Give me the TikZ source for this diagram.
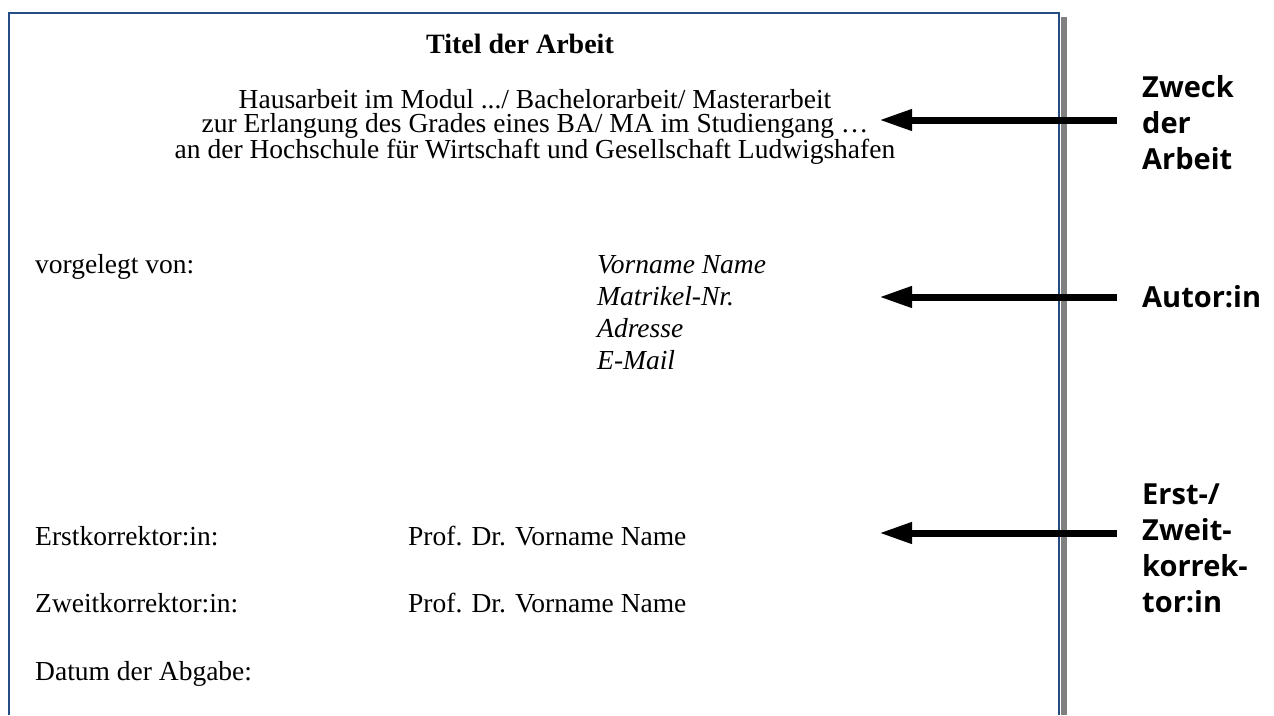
\documentclass[tikz,border=0pt]{standalone}
\usepackage{fontspec}
\setmainfont{Liberation Serif}
\newfontfamily\labelfont{Open Sans}
\usetikzlibrary{arrows.meta, positioning}
\definecolor{pageblue}{RGB}{38,76,134}
\definecolor{shadowgray}{RGB}{128,128,128}

\begin{document}
\begin{tikzpicture}[
                x=1pt, y=-1pt,
                bodytext/.style={font=\fontsize{27.5}{23.5}\selectfont, inner sep=0pt, anchor=base west},
                titletext/.style={font=\fontsize{28}{30}\selectfont\bfseries, inner sep=0pt, anchor=base},
                authortext/.style={font=\fontsize{27.5}{32}\selectfont\itshape, inner sep=0pt, align=left, anchor=north west},
                sidelabel/.style={font=\fontsize{29}{36}\selectfont\labelfont\bfseries, inner sep=0pt, align=left, anchor=north west},
                pointer/.style={line width=7pt, shorten <=25pt, -{Triangle[length=33pt, width=20pt]}}
            ]
                \useasboundingbox (0,0) rectangle (1274,715);

                % Seite
                \fill[shadowgray] (1061,17) rectangle (1067,715);
                \draw[pageblue, line width=2pt] (9,715) -- (9,13) -- (1059,13) -- (1059,715);

                % Deckblatt
                \node[titletext] (title) at (520,53) {Titel der Arbeit};
                \node[bodytext, align=center, anchor=center] (purpose) at (535,127) {Hausarbeit im Modul .../ Bachelorarbeit/ Masterarbeit\\zur Erlangung des Grades eines BA/ MA im Studiengang \dots\\an der Hochschule für Wirtschaft und Gesellschaft Ludwigshafen};
                \node[bodytext] (vorgelegt) at (35,273) {vorgelegt von:};
                \node[authortext] (author) at (597,255) {Vorname Name\\Matrikel-Nr.\\Adresse\\E-Mail};
                \node[bodytext] (erst) at (35,545) {Erstkorrektor:in:};
                \node[bodytext] (erstname) at (408,545) {Prof. Dr. Vorname Name};
                \node[bodytext] (zweit) at (35,612) {Zweitkorrektor:in:};
                \node[bodytext] (zweitname) at (408,612) {Prof. Dr. Vorname Name};
                \node[bodytext] (datum) at (35,680) {Datum der Abgabe:};

                % Erläuterungen
                \node[sidelabel] (zweck) at (1142,75) {Zweck\\der\\Arbeit};
                \node[sidelabel, anchor=west] (autor) at (1142,297) {Autor:in};
                \node[sidelabel] (korrektor) at (1142,484) {Erst-/\\Zweit-\\korrek-\\tor:in};

                \coordinate (zweckTip) at (879,120);
                \coordinate (autorTip) at (879,297);
                \coordinate (korrTip) at (879,533);

                \draw[pointer] (zweck.west |- zweckTip) -- (zweckTip);
                \draw[pointer] (autor.west |- autorTip) -- (autorTip);
                \draw[pointer] (korrektor.west |- korrTip) -- (korrTip);
            \end{tikzpicture}
\end{document}
